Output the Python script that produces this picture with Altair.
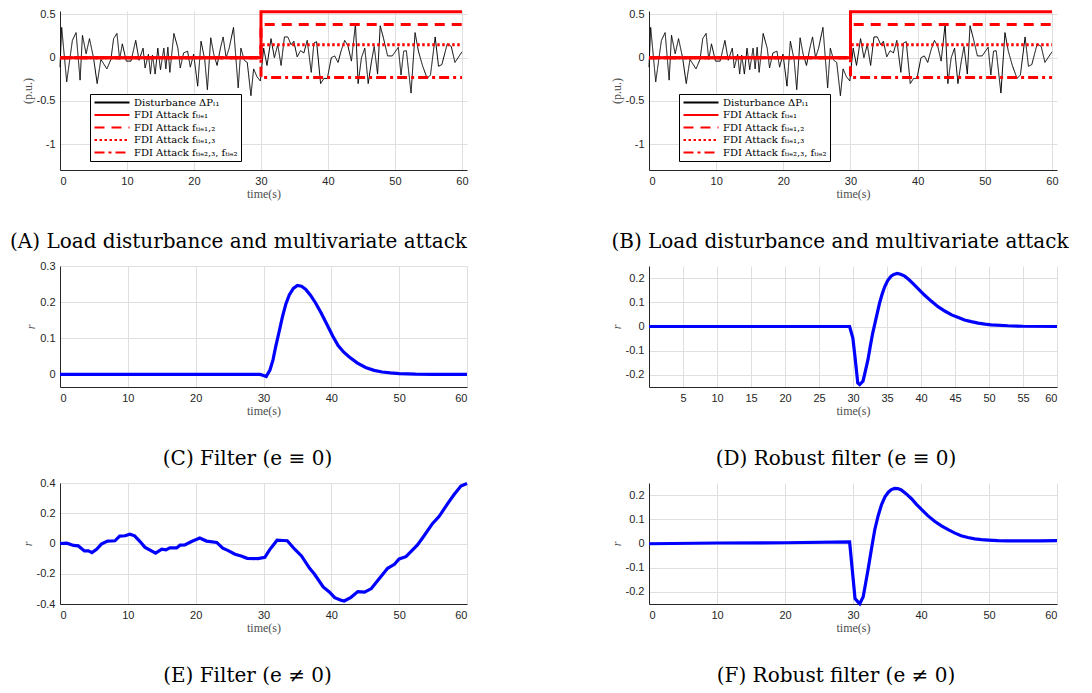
import altair as alt
import pandas as pd

# ---------------- data ----------------
dist_t = [0.0, 0.25, 1.0, 1.85, 2.4, 3.0, 3.35, 3.9, 4.4, 5.0, 5.55, 6.1, 7.0, 7.6, 8.0, 8.5, 8.9,
          9.3, 9.9, 10.6, 11.3, 11.8, 12.4, 12.7, 13.2, 13.5, 13.8, 14.2, 14.6, 15.0, 15.5, 15.8,
          16.1, 16.4, 17.0, 17.6, 17.95, 18.45, 19.05, 19.45, 19.95, 20.55, 21.05, 21.6, 22.0,
          22.5, 22.95, 23.45, 23.95, 24.35, 24.8, 25.25, 25.9, 26.6, 27.0, 27.5, 27.95, 28.5,
          28.9, 29.4, 29.9, 30.4, 30.9, 31.5, 32.0, 32.5, 33.0, 33.5, 34.0, 34.5, 34.9, 35.4,
          35.9, 36.4, 36.9, 37.5, 37.9, 38.3, 38.9, 39.4, 39.9, 40.5, 41.0, 41.5, 42.0, 42.5,
          43.0, 43.5, 44.1, 44.5, 45.0, 45.5, 46.0, 46.5, 46.9, 47.4, 47.8, 48.3, 48.9, 49.6,
          50.5, 50.9, 51.3, 51.7, 52.4, 53.0, 53.5, 54.1, 54.8, 55.3, 56.0, 56.5, 57.0, 57.8,
          58.4, 58.95, 60.0]
dist_v = [-0.11, 0.35, -0.28, 0.2, 0.29, -0.26, 0.26, 0.045, 0.22, 0.0, -0.30, -0.02, -0.13,
          -0.02, 0.22, 0.28, -0.02, 0.16, -0.04, -0.04, 0.2, -0.03, 0.11, -0.12, 0.04, -0.19,
          0.03, -0.19, 0.11, -0.14, 0.11, -0.13, 0.12, -0.17, 0.28, 0.11, -0.12, 0.055, 0.075,
          -0.11, 0.04, -0.33, 0.19, -0.02, -0.37, 0.23, 0.04, -0.09, 0.11, 0.24, 0.0, 0.11,
          0.35, -0.35, 0.11, -0.03, -0.055, -0.44, -0.13, -0.22, -0.27, 0.11, -0.09, 0.22, 0.0,
          0.15, -0.09, 0.24, 0.24, 0.15, 0.19, 0.01, 0.08, 0.055, 0.2, -0.17, 0.17, 0.185,
          -0.30, -0.24, -0.24, 0.0, 0.02, -0.055, 0.09, 0.2, 0.13, -0.04, 0.39, -0.30, 0.0,
          0.11, -0.30, -0.04, 0.13, -0.19, 0.37, 0.22, 0.02, 0.02, 0.12, -0.2, 0.075, 0.08,
          -0.41, 0.29, 0.075, -0.09, -0.24, -0.2, 0.24, -0.10, -0.08, 0.16, 0.13, -0.055, 0.067]

legend_names = ["Disturbance ΔPₗ₁", "FDI Attack fₜᵢₑ₁", "FDI Attack fₜᵢₑ₁,₂",
                "FDI Attack fₜᵢₑ₁,₃", "FDI Attack fₜᵢₑ₂,₃, fₜᵢₑ₂"]
attack_levels = [0.53, 0.385, 0.148, -0.23]
attack_start = 30
attack_end = 60

c_t = [0, 29.5, 30.0, 30.4, 30.95, 31.4, 31.8, 32.3, 32.8, 33.3, 33.8, 34.4, 35.0, 35.6, 36.2,
       36.9, 37.7, 38.5, 39.3, 40.2, 41.0, 41.8, 42.6, 43.8, 45.05, 46.3, 47.5, 48.7, 50.0,
       52.4, 55, 60]
c_r = [0, 0, -0.003, -0.006, 0.012, 0.04, 0.077, 0.118, 0.16, 0.195, 0.22, 0.238, 0.246, 0.244,
       0.236, 0.22, 0.197, 0.17, 0.14, 0.106, 0.08, 0.062, 0.049, 0.032, 0.019, 0.011, 0.0065,
       0.004, 0.002, 0.0005, 0.0, 0.0]

d_t = [0, 29.5, 29.98, 30.35, 30.7, 30.98, 31.47, 31.85, 32.2, 32.55, 32.9, 33.4, 33.9, 34.3,
       34.66, 35.1, 35.6, 36.0, 36.5, 37.0, 37.6, 38.2, 38.8, 39.6, 40.5, 41.5, 42.5, 43.5,
       44.5, 45.5, 46.4, 47.4, 48.4, 49.4, 50.3, 52.8, 55, 60]
d_r = [0, 0, -0.048, -0.14, -0.233, -0.24, -0.226, -0.18, -0.137, -0.08, -0.027, 0.035, 0.096,
       0.135, 0.164, 0.19, 0.208, 0.215, 0.219, 0.216, 0.208, 0.194, 0.178, 0.155, 0.130,
       0.105, 0.082, 0.064, 0.048, 0.037, 0.027, 0.02, 0.014, 0.01, 0.007, 0.003, 0.001, 0]

e_t = [0, 1.0, 2.0, 2.7, 3.6, 4.2, 4.7, 5.4, 6.1, 7.0, 8.1, 8.8, 9.6, 10.3, 11.0, 11.8, 12.5,
       13.2, 14.1, 15.0, 15.6, 16.2, 17.2, 17.7, 18.4, 19.4, 20.6, 21.6, 23.1, 24.0, 24.8,
       25.8, 26.7, 27.6, 29.2, 30.2, 30.9, 32.0, 32.9, 33.5, 34.6, 35.6, 36.8, 37.5, 38.8,
       39.7, 40.5, 41.5, 41.9, 42.9, 43.9, 44.9, 45.9, 46.9, 48.3, 49.3, 50.0, 51.0, 51.8,
       52.7, 53.7, 54.9, 55.9, 57.2, 58.1, 59.1, 60.0]
e_r = [0.0, 0.002, -0.013, -0.016, -0.049, -0.049, -0.06, -0.038, -0.004, 0.016, 0.018, 0.049,
       0.051, 0.062, 0.051, 0.013, -0.024, -0.042, -0.064, -0.038, -0.042, -0.029, -0.029,
       -0.011, -0.009, 0.013, 0.036, 0.016, 0.007, -0.031, -0.047, -0.071, -0.082, -0.098,
       -0.1, -0.091, -0.042, 0.022, 0.02, 0.018, -0.038, -0.082, -0.164, -0.202, -0.287,
       -0.32, -0.358, -0.376, -0.38, -0.356, -0.318, -0.322, -0.298, -0.242, -0.164, -0.138,
       -0.102, -0.087, -0.051, -0.009, 0.053, 0.131, 0.18, 0.267, 0.324, 0.38, 0.396]

f_t = [0, 10, 20, 29.5, 30.3, 30.75, 31.0, 31.5, 31.85, 32.2, 32.7, 33.2, 33.7, 34.2, 34.7,
       35.2, 35.6, 36.1, 36.6, 37.1, 37.8, 38.6, 39.3, 40.1, 41.0, 42.0, 43.0, 44.0, 45.0,
       45.9, 46.9, 47.9, 48.9, 49.9, 51.3, 52.8, 55.2, 57.5, 60]
f_r = [-0.001, 0.002, 0.003, 0.007, -0.228, -0.242, -0.249, -0.22, -0.165, -0.11, -0.025,
       0.057, 0.115, 0.161, 0.193, 0.212, 0.222, 0.228, 0.227, 0.221, 0.206, 0.185, 0.163,
       0.14, 0.115, 0.092, 0.073, 0.057, 0.043, 0.032, 0.025, 0.019, 0.016, 0.014, 0.012,
       0.011, 0.011, 0.011, 0.012]

time_ticks = [0, 10, 20, 30, 40, 50, 60]
time_ticks_d = [5, 10, 15, 20, 25, 30, 35, 40, 45, 50, 55, 60]
pu_ticks = [-1, -0.5, 0, 0.5]
c_ticks = [0, 0.1, 0.2, 0.3]
d_ticks = [-0.2, -0.1, 0, 0.1, 0.2]
e_ticks = [-0.4, -0.2, 0, 0.2, 0.4]

captions = ["(A) Load disturbance and multivariate attack",
            "(B) Load disturbance and multivariate attack",
            "(C) Filter (e ≡ 0)", "(D) Robust filter (e ≡ 0)",
            "(E) Filter (e ≠ 0)", "(F) Robust filter (e ≠ 0)"]

# ---------------- style ----------------
SANS = "Liberation Sans"
SERIF = "Liberation Serif"
CAP_FONT = "DejaVu Serif"
MINUS_FIX = "replace(datum.label, '\u2212', '-')"
W1, W2 = 407, 408
H1, H2 = 159, 121


def x_axis(values):
    return alt.Axis(values=values, title="time(s)", format="d", labelExpr=MINUS_FIX)


def y_axis(values, title, italic=False):
    return alt.Axis(values=values, title=title, format=".1~f", labelExpr=MINUS_FIX,
                    titleFontStyle="italic" if italic else "normal")


def caption_title(text, dx):
    return alt.TitleParams(text, orient="bottom", dx=dx, offset=33)


def attack_panel(caption, width, dx):
    dist_df = pd.DataFrame({"t": dist_t, "v": dist_v, "series": legend_names[0],
                            "k": list(range(len(dist_t)))})
    rows = []
    for name, lvl in zip(legend_names[1:], attack_levels):
        pts = [(0, 0), (attack_start, 0), (attack_start, lvl), (attack_end, lvl)]
        for k, (tt, vv) in enumerate(pts):
            rows.append({"t": tt, "v": vv, "series": name, "k": k})
    att_df = pd.DataFrame(rows)

    leg = alt.Legend(title=None, orient="none", legendX=30, legendY=83,
                     strokeColor="black", fillColor="white", padding=3,
                     labelFont=CAP_FONT, labelFontSize=10, labelColor="black",
                     symbolType="stroke", symbolSize=1225, symbolStrokeWidth=2.2,
                     labelOffset=3, rowPadding=1.5, clipHeight=11, cornerRadius=0)
    x = alt.X("t:Q", scale=alt.Scale(domain=[0, 60.75], nice=False), axis=x_axis(time_ticks))
    y = alt.Y("v:Q", scale=alt.Scale(domain=[-1.3, 0.54], nice=False),
              axis=y_axis(pu_ticks, "(p.u.)"))
    color = alt.Color("series:N", sort=legend_names,
                      scale=alt.Scale(domain=legend_names,
                                      range=["black", "#FF0000", "#FF0000", "#FF0000", "#FF0000"]),
                      legend=leg)
    dash = alt.StrokeDash("series:N", sort=legend_names,
                          scale=alt.Scale(domain=legend_names,
                                          range=[[1, 0], [1, 0], [10, 7], [2.5, 2.5], [10, 4, 3, 4]]),
                          legend=leg)
    l1 = alt.Chart(dist_df).mark_line(strokeWidth=1).encode(
        x=x, y=y, color=color, strokeDash=dash, order="k:Q")
    l2 = alt.Chart(att_df).mark_line(strokeWidth=3).encode(
        x=x, y=y, color=color, strokeDash=dash, order="k:Q")
    return alt.layer(l1, l2).properties(width=width, height=H1,
                                        title=caption_title(caption, dx))


def r_panel(ts, rs, ydom, yticks, xticks, caption, width, dx):
    df = pd.DataFrame({"t": ts, "r": rs})
    return alt.Chart(df).mark_line(color="#0000FF", strokeWidth=3.2).encode(
        x=alt.X("t:Q", scale=alt.Scale(domain=[0, 60], nice=False), axis=x_axis(xticks)),
        y=alt.Y("r:Q", scale=alt.Scale(domain=ydom, nice=False),
                axis=y_axis(yticks, "r", italic=True)),
    ).properties(width=width, height=H2, title=caption_title(caption, dx))


pA = attack_panel(captions[0], W1, -25)
pB = attack_panel(captions[1], W2, -13)
pC = r_panel(c_t, c_r, [-0.035, 0.3], c_ticks, time_ticks, captions[2], W1, -16)
pD = r_panel(d_t, d_r, [-0.25, 0.25], d_ticks, time_ticks_d, captions[3], W2, -17)
pE = r_panel(e_t, e_r, [-0.4, 0.4], e_ticks, time_ticks, captions[4], W1, -16)
pF = r_panel(f_t, f_r, [-0.25, 0.25], d_ticks, time_ticks, captions[5], W2, -17)

chart = alt.concat(
    pA, pB, pC, pD, pE, pF, columns=2,
    spacing={"row": 96, "column": 182}, bounds="flush", align="each",
).resolve_scale(
    x="independent", y="independent", color="independent", strokeDash="independent"
).resolve_legend(
    color="independent", strokeDash="independent"
).properties(
    padding={"left": 2, "top": -3, "right": 0, "bottom": 0}
).configure_axis(
    labelFont=SANS, labelFontSize=11, labelColor="#262626",
    titleFont=SERIF, titleFontSize=12, titleColor="#4D4D4D", titleFontWeight="normal",
    gridColor="#DFDFDF", gridWidth=1, domainColor="#262626", domainWidth=1,
    ticks=False, labelPadding=5, titlePadding=2,
).configure_axisY(titlePadding=2).configure_view(stroke=None).configure_title(
    font=CAP_FONT, fontSize=20, fontWeight="normal", color="black"
)

chart.save("out.html", embed_options={"renderer": "svg", "actions": False})
